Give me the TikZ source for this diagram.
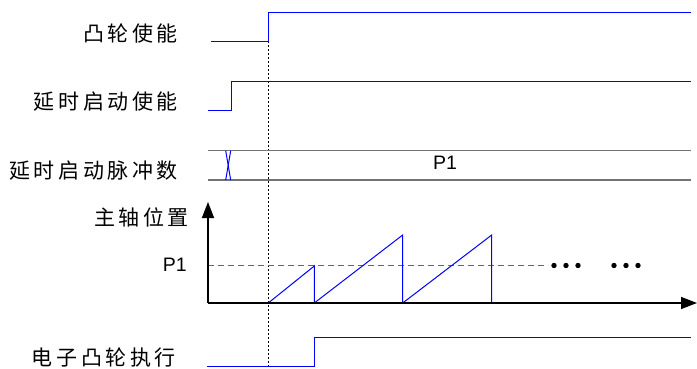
\documentclass[tikz,border=0pt]{standalone}
\usepackage{fontspec}
\setmainfont{Liberation Sans}
\newfontfamily\cjk[LetterSpace=17]{Noto Sans CJK SC}
\usetikzlibrary{arrows.meta}
\begin{document}
\begin{tikzpicture}[x=1pt,y=-1pt,
  txt/.style={inner sep=0pt, font=\fontsize{19.5}{23}\selectfont},
  lbl/.style={anchor=east, inner sep=0pt, font=\fontsize{21}{25}\selectfont\cjk},
  sig/.style={draw=blue, line width=1pt},
  bus/.style={draw=black!55, line width=1.5pt},
  xing/.style={draw=blue, line width=1pt},
  axis/.style={draw=black, line width=1.5pt, -{Triangle[length=16pt,width=12pt]}},
  guide/.style={draw=black, line width=1pt, dash pattern=on 2pt off 2pt},
  ref/.style={draw=black!60, line width=1pt, dash pattern=on 6pt off 4pt},
  saw/.style={draw=blue, line width=1pt},
  dot/.style={fill=black}]
\useasboundingbox (0,0) rectangle (697,369);

% labels
\node[lbl] (l1) at (178,34) {凸轮使能};
\node[lbl] (l2) at (178,102) {延时启动使能};
\node[lbl] (l3) at (178,171) {延时启动脉冲数};
\node[lbl] (l4) at (189,217) {主轴位置};
\node[lbl] (l5) at (176,358) {电子凸轮执行};
\node[txt, anchor=east] (p1a) at (187,265) {P1};
\node[txt] (p1b) at (445,163) {P1};

% guide line
\coordinate (gtop) at (268,41);
\coordinate (gbot) at (268,368);
\draw[guide] (gtop) -- (gbot);

% signal 1
\draw[sig] (211,41.3) -- (268.3,41.3) -- (268.3,12.3) -- (691,12.3);
% signal 2
\draw[sig] (208.3,110.3) -- (231,110.3) -- (231,81.7) -- (691,81.7);
% bus
\draw[bus] (208,150.7) -- (691,150.7);
\draw[bus] (208,180) -- (691,180);
\draw[xing] (225.7,150.7) -- (230.7,180);
\draw[xing] (230.7,150.7) -- (225.7,180);

% axes
\coordinate (o) at (208,303);
\coordinate (ytip) at (208,202);
\coordinate (xtip) at (697,303);
\draw[ref] (208,265.7) -- (548,265.7);
\draw[saw] (268.3,303) -- (314.3,266) -- (314.3,303) -- (402.7,235) -- (402.7,303) -- (491.7,235) -- (491.7,303);
\draw[axis] (o) -- (ytip);
\draw[axis] (o) -- (xtip);

% dots
\foreach \x in {554,566,578,614,626,638} \fill[dot] (\x,265.5) circle (2.7);

% signal 5
\draw[sig] (207,366.7) -- (314.3,366.7) -- (314.3,337.7) -- (691,337.7);
\end{tikzpicture}
\end{document}
